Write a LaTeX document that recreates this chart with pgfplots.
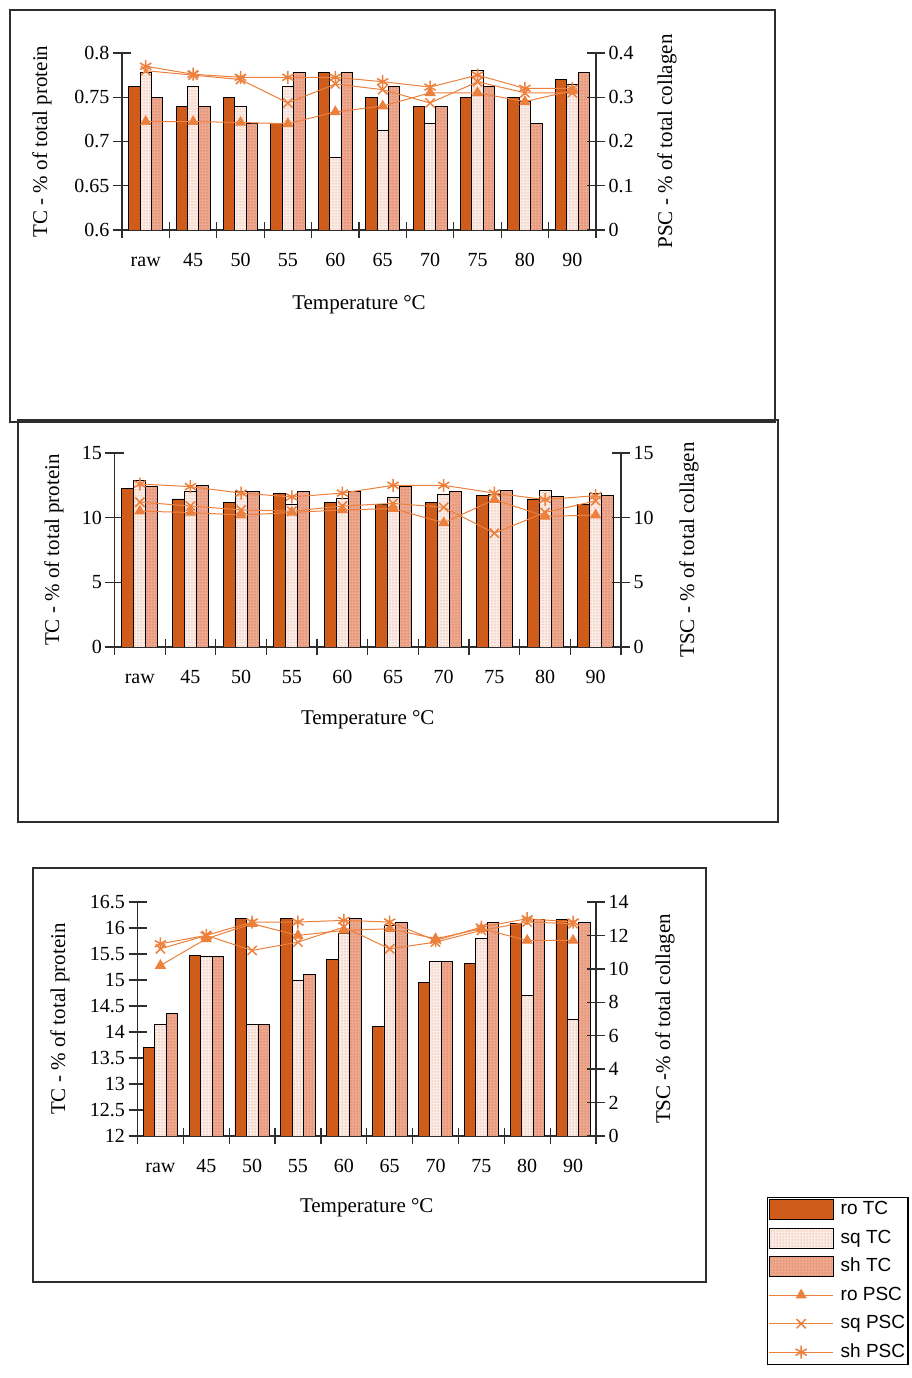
\documentclass[border=0pt]{standalone}
\usepackage{fontspec}
\setmainfont{Liberation Serif}
\newfontfamily\legfont{Liberation Sans}
\usepackage{pgfplots}
\pgfplotsset{compat=1.18}
\usetikzlibrary{patterns}
\definecolor{roC}{RGB}{208,92,28}
\definecolor{sqF}{RGB}{252,236,230}
\definecolor{sqD}{RGB}{214,118,88}
\definecolor{shF}{RGB}{238,168,142}
\definecolor{shD}{RGB}{190,80,48}
\definecolor{lnC}{RGB}{236,128,60}
\definecolor{axC}{RGB}{45,45,45}
\pgfplotsset{
  roTC/.style={fill=roC, draw=black, line width=0.7pt},
  sqTC/.style={fill=sqF, draw=black, line width=0.7pt, postaction={pattern=dots, pattern color=sqD}},
  shTC/.style={fill=shF, draw=black, line width=0.7pt, postaction={pattern=dots, pattern color=shD}},
  roPSC/.style={color=lnC, line width=1pt, mark=triangle*, mark size=5.5pt, mark options={line width=1pt}},
  sqPSC/.style={color=lnC, line width=1pt, mark=x, mark size=6.5pt, mark options={line width=1.5pt}},
  shPSC/.style={color=lnC, line width=1pt, mark=asterisk, mark size=6.5pt, mark options={line width=1.5pt}},
  barleg/.style={legend image code/.code={\draw[##1] (0pt,-10pt) rectangle (64pt,10pt);}},
  lineleg/.style={legend image code/.code={\draw[mark repeat=2, mark phase=2, ##1] plot coordinates {(0pt,0pt) (32pt,0pt) (64pt,0pt)};}},
  base/.style={scale only axis, xmin=-0.5, xmax=9.5,
     axis line style={axC, line width=1.2pt},
     tick style={axC, line width=1.3pt}, tick align=center,
     minor tick style={axC, line width=1.3pt},
     major tick length=18pt, minor tick length=16pt,
     /pgf/number format/assume math mode=true,
     tick label style={font=\fontsize{20}{20}\selectfont},
     label style={font=\fontsize{21}{21}\selectfont}},
  barax/.style={base, axis x line*=bottom, axis y line*=left,
     xtick={0,...,9}, xticklabels={raw,45,50,55,60,65,70,75,80,90},
     major x tick style={draw=none}, minor xtick={-0.5,0.5,...,9.5},
     xticklabel style={text height=13pt, text depth=4pt, yshift=-11pt}},
  lineax/.style={base, axis x line=none, axis y line*=right, lineleg},
}
\begin{document}
\begin{tikzpicture}[x=1pt,y=1pt]
\useasboundingbox (0,0) rectangle (912,1378);
\fill[white] (0,0) rectangle (912,1378);
% frames
\draw[line width=1.5pt, axC] (10,1368) rectangle (775,956);
\draw[line width=1.5pt, axC] (18,958) rectangle (778,556);
\draw[line width=1.5pt, axC] (33,510) rectangle (706,96);

% ---------------- Panel 1 ----------------
\begin{axis}[barax, at={(122pt,1148pt)}, anchor=south west, width=474pt, height=177pt,
  ymin=0.6, ymax=0.8, ytick={0.6,0.65,0.7,0.75,0.8},
  xlabel={Temperature °C}, ylabel={TC - \% of total protein},
  xlabel style={at={(axis description cs:0.5,-0.4237)}, anchor=center},
  ylabel style={at={(axis description cs:-0.1688,0.5)}, anchor=center}]
\addplot[ybar, bar width=0.24, bar shift=-0.24, roTC] coordinates {(0,0.762) (1,0.740) (2,0.750) (3,0.720) (4,0.778) (5,0.750) (6,0.740) (7,0.750) (8,0.750) (9,0.770)};
\addplot[ybar, bar width=0.24, bar shift=0, sqTC] coordinates {(0,0.778) (1,0.762) (2,0.740) (3,0.762) (4,0.682) (5,0.713) (6,0.720) (7,0.780) (8,0.745) (9,0.765)};
\addplot[ybar, bar width=0.24, bar shift=0.24, shTC] coordinates {(0,0.750) (1,0.740) (2,0.720) (3,0.778) (4,0.778) (5,0.762) (6,0.740) (7,0.762) (8,0.720) (9,0.778)};
\end{axis}
\begin{axis}[lineax, at={(122pt,1148pt)}, anchor=south west, width=474pt, height=177pt,
  ymin=0, ymax=0.4, ytick={0,0.1,0.2,0.3,0.4},
  ylabel={PSC - \% of total collagen},
  ylabel style={at={(axis description cs:1.1498,0.5)}, anchor=center}]
\addplot[roPSC] coordinates {(0,0.245) (1,0.245) (2,0.243) (3,0.240) (4,0.267) (5,0.280) (6,0.310) (7,0.310) (8,0.290) (9,0.315)};
\addplot[sqPSC] coordinates {(0,0.360) (1,0.350) (2,0.340) (3,0.287) (4,0.330) (5,0.317) (6,0.287) (7,0.335) (8,0.310) (9,0.310)};
\addplot[shPSC] coordinates {(0,0.370) (1,0.352) (2,0.345) (3,0.345) (4,0.345) (5,0.335) (6,0.323) (7,0.350) (8,0.320) (9,0.320)};
\end{axis}

% ---------------- Panel 2 ----------------
\begin{axis}[barax, at={(114.5pt,731pt)}, anchor=south west, width=506.5pt, height=194pt,
  ymin=0, ymax=15, ytick={0,5,10,15},
  xlabel={Temperature °C}, ylabel={TC - \% of total protein},
  xlabel style={at={(axis description cs:0.5,-0.3763)}, anchor=center},
  ylabel style={at={(axis description cs:-0.1194,0.5)}, anchor=center}]
\addplot[ybar, bar width=0.237, bar shift=-0.237, roTC] coordinates {(0,12.25) (1,11.45) (2,11.2) (3,11.85) (4,11.2) (5,11.0) (6,11.2) (7,11.7) (8,11.45) (9,11.05)};
\addplot[ybar, bar width=0.237, bar shift=0, sqTC] coordinates {(0,12.9) (1,12.0) (2,12.0) (3,11.0) (4,11.5) (5,11.6) (6,11.8) (7,11.8) (8,12.1) (9,11.9)};
\addplot[ybar, bar width=0.237, bar shift=0.237, shTC] coordinates {(0,12.4) (1,12.5) (2,12.0) (3,12.0) (4,12.0) (5,12.4) (6,12.0) (7,12.1) (8,11.65) (9,11.7)};
\end{axis}
\begin{axis}[lineax, at={(114.5pt,731pt)}, anchor=south west, width=506.5pt, height=194pt,
  ymin=0, ymax=15, ytick={0,5,10,15},
  ylabel={TSC - \% of total collagen},
  ylabel style={at={(axis description cs:1.1343,0.5)}, anchor=center}]
\addplot[roPSC] coordinates {(0,10.5) (1,10.4) (2,10.2) (3,10.4) (4,10.6) (5,10.7) (6,9.6) (7,11.4) (8,10.1) (9,10.2)};
\addplot[sqPSC] coordinates {(0,11.2) (1,10.9) (2,10.6) (3,10.5) (4,10.9) (5,11.1) (6,10.8) (7,8.8) (8,10.4) (9,11.3)};
\addplot[shPSC] coordinates {(0,12.6) (1,12.4) (2,11.9) (3,11.6) (4,11.9) (5,12.5) (6,12.5) (7,11.9) (8,11.4) (9,11.7)};
\end{axis}

% ---------------- Panel 3 ----------------
\begin{axis}[barax, at={(137.5pt,242pt)}, anchor=south west, width=458.5pt, height=234pt,
  ymin=12, ymax=16.5, ytick={12,12.5,13,13.5,14,14.5,15,15.5,16,16.5},
  xlabel={Temperature °C}, ylabel={TC - \% of total protein},
  xlabel style={at={(axis description cs:0.5,-0.3077)}, anchor=center},
  ylabel style={at={(axis description cs:-0.169,0.5)}, anchor=center}]
\addplot[ybar, bar width=0.25, bar shift=-0.25, roTC] coordinates {(0,13.7) (1,15.47) (2,16.18) (3,16.18) (4,15.4) (5,14.1) (6,14.95) (7,15.32) (8,16.08) (9,16.16)};
\addplot[ybar, bar width=0.25, bar shift=0, sqTC] coordinates {(0,14.15) (1,15.45) (2,14.15) (3,15.0) (4,15.9) (5,16.05) (6,15.36) (7,15.8) (8,14.7) (9,14.25)};
\addplot[ybar, bar width=0.25, bar shift=0.25, shTC] coordinates {(0,14.35) (1,15.45) (2,14.15) (3,15.1) (4,16.18) (5,16.1) (6,15.36) (7,16.1) (8,16.16) (9,16.1)};
\end{axis}
\begin{axis}[lineax, at={(137.5pt,242pt)}, anchor=south west, width=458.5pt, height=234pt,
  ymin=0, ymax=14, ytick={0,2,4,6,8,10,12,14},
  ylabel={TSC -\% of total collagen},
  ylabel style={at={(axis description cs:1.1505,0.5)}, anchor=center},
  legend cell align=left,
  legend style={at={(1.373,-0.2607)}, anchor=north west, draw=black, line width=1.3pt,
     fill=white, font=\legfont\fontsize{19}{19}\selectfont,
     inner xsep=1pt, inner ysep=1pt, row sep=6.5pt, column sep=5pt,
     nodes={inner sep=2pt, text height=14pt, text depth=4pt}}]
\addlegendimage{roTC, barleg}
\addlegendentry{ro TC}
\addlegendimage{sqTC, barleg}
\addlegendentry{sq TC}
\addlegendimage{shTC, barleg}
\addlegendentry{sh TC}
\addplot[roPSC] coordinates {(0,10.2) (1,11.8) (2,12.7) (3,12.0) (4,12.3) (5,12.4) (6,11.8) (7,12.4) (8,11.7) (9,11.7)};
\addlegendentry{ro PSC}
\addplot[sqPSC] coordinates {(0,11.2) (1,12.0) (2,11.1) (3,11.6) (4,12.5) (5,11.2) (6,11.6) (7,12.3) (8,12.8) (9,12.7)};
\addlegendentry{sq PSC}
\addplot[shPSC] coordinates {(0,11.5) (1,12.0) (2,12.8) (3,12.8) (4,12.9) (5,12.8) (6,11.7) (7,12.5) (8,13.0) (9,12.8)};
\addlegendentry{sh PSC}
\end{axis}
\end{tikzpicture}
\end{document}
